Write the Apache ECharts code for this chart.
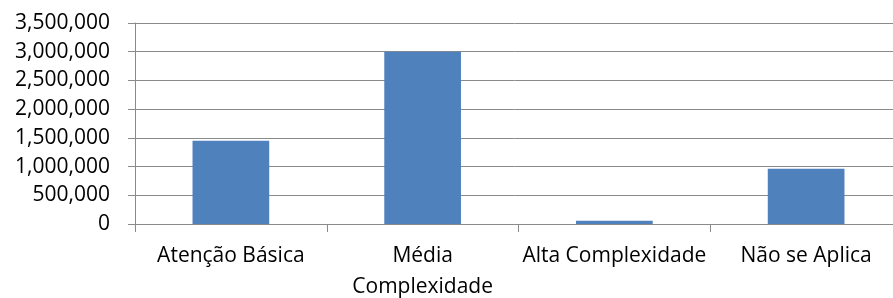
<!DOCTYPE html>
<html>
<head>
<meta charset="utf-8">
<script src="https://cdn.jsdelivr.net/npm/echarts@6/dist/echarts.min.js"></script>
<style>html,body{margin:0;padding:0;background:#fff}#c{width:893px;height:298px}</style>
</head>
<body>
<div id="c"></div>
<script>
var categories = ['Atenção Básica', 'Média Complexidade', 'Alta Complexidade', 'Não se Aplica'];
var values = [1450000, 3000000, 55000, 960000];
var yMin = 0, yMax = 3500000, yStep = 500000;

var chart = echarts.init(document.getElementById('c'), null, {renderer: 'canvas'});
var gridColor = '#8a8a8a';
var font = '"Open Sans", "Noto Sans", sans-serif';
chart.setOption({
  animation: false,
  grid: {left: 135, top: 23, width: 767, height: 201, containLabel: false, outerBoundsMode: 'none'},
  xAxis: {
    type: 'category',
    data: categories,
    axisLine: {show: true, lineStyle: {color: gridColor, width: 1}},
    axisTick: {show: true, length: 8, lineStyle: {color: gridColor}},
    axisLabel: {
      interval: 0, hideOverlap: false,
      margin: 17, color: '#000', fontFamily: font, fontSize: 21, lineHeight: 31,
      formatter: function (v) { return v === 'Média Complexidade' ? 'Média\nComplexidade' : v; }
    },
    splitLine: {show: false}
  },
  yAxis: {
    type: 'value',
    min: yMin, max: yMax, interval: yStep,
    axisLine: {show: true, lineStyle: {color: gridColor, width: 1}},
    axisTick: {show: true, length: 7, lineStyle: {color: gridColor}},
    axisLabel: {
      margin: 25, color: '#000', fontFamily: font, fontSize: 21,
      formatter: function (v) { return v.toLocaleString('en-US'); }
    },
    splitLine: {show: true, lineStyle: {color: gridColor, width: 1}}
  },
  series: [{
    type: 'bar',
    data: values,
    barCategoryGap: '60%',
    itemStyle: {color: '#4F81BD'}
  }]
});
</script>
</body>
</html>
